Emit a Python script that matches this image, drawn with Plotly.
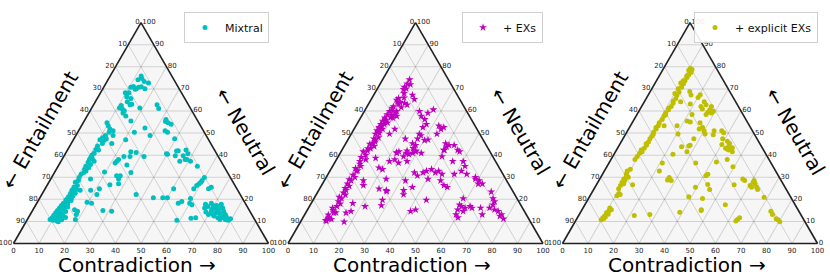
import math
import plotly.graph_objects as go

# (neutral %, contradiction %) per sample; entailment = 100 - neutral - contradiction
mixtral_points = [
    (75.9,12.1),(74.7,13.0),(74.2,11.7),(73.3,14.6),(72.7,16.6),(71.1,11.5),(70.8,10.6),(70.7,13.7),(71.0,14.6),(70.1,13.1),
    (70.1,16.5),(69.8,12.8),(68.3,11.1),(68.3,9.7),(66.4,11.2),(65.7,13.2),(64.2,12.5),(63.1,14.8),(62.8,14.3),(62.5,11.0),
    (61.3,10.9),(61.0,12.1),(60.1,13.4),(59.1,13.4),(57.7,15.2),(55.5,18.3),(54.7,9.3),(53.3,10.5),(51.8,11.9),(51.1,13.5),
    (50.4,12.3),(48.9,11.6),(48.9,14.6),(47.9,11.0),(47.4,12.7),(47.0,10.4),(46.7,12.3),(45.3,12.2),(45.3,15.9),(44.1,10.9),
    (42.6,11.0),(42.3,12.2),(40.9,11.2),(40.1,10.8),(39.1,10.8),(38.3,11.8),(38.0,10.8),(37.2,13.0),(36.8,10.9),(35.8,12.3),
    (35.0,10.9),(34.3,12.3),(33.6,11.1),(32.8,12.0),(32.1,11.5),(31.4,10.8),(29.9,10.8),(28.5,11.2),(27.7,10.4),(26.3,11.9),
    (25.5,11.0),(24.5,12.4),(24.1,10.9),(22.8,12.8),(22.6,11.1),(21.5,12.6),(21.2,11.0),(20.4,12.5),(20.2,11.0),(19.7,10.7),
    (19.5,12.8),(19.0,11.8),(18.5,11.6),(18.2,10.5),(17.8,12.3),(17.2,10.2),(17.0,11.5),(16.5,13.0),(16.1,10.0),(16.0,11.2),
    (15.5,12.0),(15.0,10.6),(14.9,9.8),(14.5,13.2),(14.0,11.4),(13.9,9.6),(13.5,10.8),(13.2,12.5),(12.8,9.4),(12.8,13.0),
    (12.3,11.8),(12.0,10.2),(11.8,14.5),(11.7,9.3),(11.5,11.5),(11.2,12.8),(11.0,10.5),(10.9,8.9),(10.8,13.5),(10.5,10.2),
    (10.3,11.8),(9.9,12.6),
    (62.8,24.9),(61.3,18.9),(61.1,26.4),(56.2,31.7),(55.2,32.0),(54.7,33.3),(54.0,34.8),(51.1,33.9),(50.4,35.2),(48.9,29.1),
    (47.4,39.5),(50.4,22.2),(52.3,25.4),(47.0,20.5),(42.0,43.6),(41.6,25.2),(41.2,27.5),(39.4,31.5),(39.4,26.0),(39.4,23.6),
    (38.0,22.2),(37.2,21.9),(35.5,26.7),(36.5,21.6),(32.1,30.0),(30.7,25.1),(30.7,26.5),(29.2,26.6),(32.4,19.5),(26.6,24.5),
    (27.0,27.7),(29.2,15.6),(24.8,21.3),(24.1,18.2),(24.1,14.1),(22.2,21.6),(18.7,19.5),(18.2,21.5),(14.9,27.6),(14.6,31.2),
    (14.6,17.8),(15.3,16.3),(13.1,18.1),(10.9,18.8),(22.2,37.0),(20.7,44.5),(20.7,48.2),(20.7,50.0),(18.2,55.5),(19.0,56.5),
    (10.5,58.8),(11.4,63.9),(11.7,65.6),(20.4,59.2),(18.2,60.0),(17.5,61.2),(24.8,50.4),(24.8,58.3),(24.8,64.1),(25.5,64.8),
    (26.3,58.7),(27.0,59.3),(27.7,59.6),(29.9,59.9),(28.5,59.7),(35.0,54.6),(42.3,46.5),(40.6,48.1),(39.7,46.7),(38.0,48.3),
    (38.0,49.0),(37.2,46.6),(37.2,50.8),(39.7,43.6),(40.6,39.7),(40.4,40.2),(41.9,43.0),
    (16.1,66.9),(14.3,68.3),(16.8,67.8),(18.2,68.5),(17.2,69.7),(16.1,71.0),(14.9,72.3),(14.3,73.2),(13.4,74.3),(12.4,75.5),
    (11.7,76.6),(10.9,77.6),(10.5,78.9),(12.4,72.5),(11.7,74.3),(10.9,75.5),(17.8,72.6),(16.1,74.0),(15.8,72.9),(13.9,72.4),
    (14.3,70.4),(13.1,69.9),(13.1,71.7),(17.2,71.1),(14.6,75.1),(13.1,76.5),(17.8,66.4),(12.0,77.5),(11.2,79.5),(15.5,70.0),
]

exs_points = [
    (74.2,10.6),(72.3,10.6),(70.8,10.3),(70.1,11.3),(69.8,10.4),(67.2,15.2),(65.3,16.9),(65.7,10.5),(65.0,10.1),(63.9,12.0),
    (63.1,11.8),(63.5,14.0),(62.8,15.3),(61.6,13.6),(61.3,10.2),(59.9,9.9),(58.4,9.7),(56.9,9.5),(55.5,9.4),(54.0,9.4),
    (52.6,9.4),(51.1,9.4),(49.6,9.5),(47.4,10.0),(45.3,10.4),(43.1,10.8),(59.9,12.7),(58.4,12.7),(56.9,12.7),(57.7,13.8),
    (54.7,11.7),(54.0,10.8),(51.8,11.2),(49.6,15.0),(51.8,16.0),
    (41.6,8.7),(37.2,9.6),(32.8,10.4),(28.5,10.5),(24.1,10.7),(20.4,10.8),(16.8,10.8),(13.9,11.0),(11.2,10.5),(10.2,10.0),
    (58.0,11.5),(56.0,10.5),(53.0,10.2),(50.0,10.8),(48.0,11.5),(46.0,11.2),(44.0,11.8),(42.0,10.2),(40.0,10.5),(39.0,9.2),
    (36.0,10.2),(35.0,11.0),(34.0,9.5),(31.0,10.0),(30.0,11.2),(27.0,9.8),(26.0,11.0),(23.0,10.2),(22.0,11.5),(19.0,10.3),
    (18.0,11.5),(15.0,10.2),(14.0,11.8),(12.0,10.0),(11.0,11.5),(10.5,9.5),(13.0,9.3),(16.0,9.5),(21.0,9.6),(25.0,9.9),
    (29.0,9.5),(33.0,10.8),(38.0,11.5),(43.0,9.8),(45.0,9.6),(47.0,10.8),(50.5,10.0),(52.0,9.9),(55.0,10.6),(57.0,11.8),
    (60.0,11.2),(62.0,10.4),(64.0,11.0),(66.0,12.5),(68.0,11.5),(72.0,12.0),
    (59.9,21.6),(57.7,23.4),(59.1,25.3),(60.6,26.7),(56.2,25.5),(54.0,27.3),(52.6,26.6),(49.6,26.7),(47.4,27.1),(48.9,27.7),
    (46.7,30.2),(47.0,31.4),(53.3,32.5),(51.8,34.1),(49.6,33.6),(52.6,34.8),(45.3,39.2),(43.8,40.3),(42.3,40.2),(44.5,40.9),
    (44.5,42.9),(42.3,45.4),(47.4,22.3),(45.3,26.2),(44.5,27.8),(43.1,27.5),(42.0,29.1),(42.0,25.7),(41.2,22.0),
    (38.7,15.0),(34.3,18.5),(33.6,20.3),(37.2,21.2),(38.0,22.9),(36.5,25.1),(40.9,22.2),(41.6,22.7),(39.4,25.6),(40.9,25.9),
    (40.4,27.2),(40.9,28.4),(41.6,29.3),(40.9,31.8),(37.2,28.1),(42.3,39.9),(39.4,40.7),(37.2,46.0),(41.6,46.5),(37.2,50.1),
    (35.0,51.9),(32.8,37.9),(32.1,36.9),(33.6,39.5),(32.1,41.7),(32.8,42.7),(31.4,44.7),(32.1,33.5),(30.7,35.4),(28.5,31.8),
    (29.2,23.9),(28.5,15.3),(26.3,16.4),(24.8,23.3),(24.1,26.5),(24.1,33.3),(25.5,36.0),(29.2,40.3),(28.5,45.6),(26.3,48.0),
    (25.5,49.7),(31.4,49.5),(32.8,51.6),(29.2,58.9),(28.5,60.7),(27.0,62.7),(23.4,68.0),(20.4,70.2),(19.0,71.5),(14.6,75.1),
    (12.4,76.9),(11.2,78.9),(13.1,77.2),(15.3,73.3),(16.1,71.0),(17.5,71.6),(16.1,67.5),(16.1,64.1),(20.4,58.5),(16.8,59.6),
    (17.5,58.5),(15.3,58.9),(13.1,59.3),(11.7,60.8),(16.1,61.4),(19.7,44.4),(15.3,42.4),(14.6,40.8),(19.7,27.2),(16.8,21.8),
    (18.2,16.3),(14.6,17.4),(13.9,15.8),(9.8,17.1),(14.6,61.4),(13.1,69.6),(31.4,54.4),(30.0,58.5),(27.0,61.1),(16.8,63.0),
    (22.2,34.2),(17.2,28.0),(23.6,26.9),
]

explicit_points = [
    (79.3,10.5),(78.1,10.8),(76.4,11.3),(75.2,11.2),(73.7,11.2),(72.3,11.3),(70.8,11.3),(68.6,11.4),(67.2,11.3),(65.7,11.6),
    (63.5,11.6),(62.0,11.6),(60.6,11.3),(59.1,10.9),(57.7,11.0),(56.2,11.0),(54.7,10.6),(53.3,10.9),(51.8,10.8),(50.4,10.5),
    (48.6,10.7),(47.4,10.6),(46.0,10.7),(44.5,10.7),(43.1,10.5),(41.6,10.4),(78.4,10.3),(78.8,11.4),(77.4,11.7),(75.9,10.8),
    (73.7,10.5),(72.7,10.0),(70.1,10.3),(67.9,10.1),(64.5,11.2),(61.2,11.0),(58.3,11.3),(52.5,10.4),(49.3,10.9),(45.2,10.2),
    (42.3,9.7),(40.9,9.8),(39.4,9.6),(38.0,9.4),(32.8,9.0),(31.7,9.3),(29.2,9.4),(27.7,9.5),(26.3,9.6),(24.8,9.6),
    (21.6,10.5),(16.1,10.5),(15.3,11.5),(13.9,10.3),(12.4,10.3),(11.7,10.0),(10.7,9.8),(30.5,9.8),(28.5,10.2),(30.0,10.8),
    (27.0,10.5),(31.0,9.5),(14.5,10.8),(13.2,11.3),(12.0,10.8),(11.2,10.5),(15.5,10.8),(22.6,10.8),(22.2,11.5),(33.6,9.8),
    (68.8,15.5),(67.2,16.8),(67.4,20.3),(66.1,20.1),(64.2,14.2),(63.2,18.5),(64.2,23.5),(62.8,24.9),(62.0,27.4),(60.6,27.4),
    (59.4,27.3),(59.1,28.8),(59.9,29.2),(58.4,27.1),(62.0,23.3),(60.9,24.4),(58.4,21.6),(55.5,21.1),(55.0,22.6),(54.7,26.6),
    (52.6,28.6),(51.8,27.7),(51.1,30.0),(53.3,18.3),(49.2,34.5),(51.1,33.9),(51.1,36.9),(50.1,38.2),(47.4,39.1),(44.8,40.1),
    (46.3,41.5),(45.3,42.9),(43.4,44.9),(44.2,43.1),(42.8,43.2),(43.8,24.8),(44.2,27.4),(44.5,27.8),(47.4,27.8),(49.6,20.5),
    (49.6,31.1),(53.3,13.2),
    (40.4,23.1),(41.6,28.0),(36.5,20.9),(32.8,21.6),(29.9,26.9),(28.5,28.4),(28.8,26.8),(26.6,14.2),(36.5,34.0),(36.9,41.9),
    (38.0,45.6),(42.3,44.0),(41.6,45.8),(43.1,42.4),(31.4,41.3),(30.7,40.9),(24.4,45.5),(26.7,43.6),(25.5,39.4),(21.2,38.9),
    (20.4,44.7),(15.3,46.8),(14.9,46.9),(14.2,38.9),(13.1,27.7),(12.7,21.8),(17.5,55.1),(10.9,63.2),(11.7,63.6),(10.2,62.9),
    (29.2,56.1),(28.5,57.2),(27.7,61.0),(27.0,62.0),(25.5,63.4),(25.5,61.4),(26.3,60.4),(24.4,64.3),(28.5,60.9),(20.9,68.6),
    (14.6,74.4),(13.1,75.8),(11.2,78.2),(9.8,80.3),(10.7,79.2),(26.6,54.0),(34.7,49.5),
]

series_names = ["Mixtral", "+ EXs", "+ explicit EXs"]
series_points = [mixtral_points, exs_points, explicit_points]
series_colors = ["#00bfbf", "#bf00bf", "#bfbf00"]
series_symbols = ["circle", "star", "circle"]
series_sizes = [5, 6, 5]
tick_values = list(range(0, 101, 10))

FIG_W, FIG_H = 830, 277
TRI_W = 255.0
TRI_H = TRI_W * math.sqrt(3) / 2
BOTTOM = 243.5
PANEL_CENTERS = [141.0, 415.5, 690.0]
LEGEND_RIGHT = [269, 543, 818]

fig = go.Figure()
font_family = "DejaVu Sans"

def tern_axis():
    return dict(
        min=0,
        tickmode="array",
        tickvals=tick_values,
        ticktext=[str(100 - v) for v in tick_values],
        tickfont=dict(size=7, color="#222", family=font_family),
        ticks="",
        linecolor="#222", linewidth=1.6,
        showgrid=True, gridcolor="rgba(0,0,0,0.15)", gridwidth=0.7,
        title=dict(text=""),
    )

annotations = []
for i, (name, pts) in enumerate(zip(series_names, series_points)):
    neutral = [p[0] for p in pts]
    contra = [p[1] for p in pts]
    entail = [100 - n - c for n, c in zip(neutral, contra)]
    sub = "ternary" if i == 0 else f"ternary{i+1}"
    leg = "legend" if i == 0 else f"legend{i+1}"
    fig.add_trace(go.Scatterternary(
        a=neutral, b=entail, c=contra, mode="markers", name=name,
        subplot=sub, legend=leg,
        marker=dict(color=series_colors[i], symbol=series_symbols[i], size=series_sizes[i], line=dict(width=0)),
        showlegend=True,
    ))
    cx = PANEL_CENTERS[i]
    dom_x = [(cx - TRI_W / 2) / FIG_W, (cx + TRI_W / 2) / FIG_W]
    dom_y = [(FIG_H - BOTTOM) / FIG_H, (FIG_H - BOTTOM + TRI_H) / FIG_H]
    fig.update_layout(**{sub: dict(
        domain=dict(x=dom_x, y=dom_y), sum=100, bgcolor="#f6f6f6",
        aaxis=tern_axis(), baxis=tern_axis(), caxis=tern_axis(),
    )})
    fig.update_layout(**{leg: dict(
        x=LEGEND_RIGHT[i] / FIG_W, y=1 - 12 / FIG_H, xanchor="right", yanchor="top",
        bgcolor="rgba(255,255,255,0.9)", bordercolor="#d0d0d0", borderwidth=1,
        font=dict(size=11, family=font_family, color="#111"),
        tracegroupgap=0,
    )})
    dx = 275 * i
    annotations += [
        dict(text="Contradiction \u2192", x=(137 + dx) / FIG_W, y=0, yshift=-2,
             xref="paper", yref="paper", showarrow=False, xanchor="center", yanchor="bottom",
             font=dict(size=20, family=font_family, color="#000")),
        dict(text="\u2190 Entailment", x=(40 + dx) / FIG_W, y=1 - 130 / FIG_H,
             xref="paper", yref="paper", showarrow=False, xanchor="center", yanchor="middle",
             textangle=-60, font=dict(size=20, family=font_family, color="#000")),
        dict(text="\u2190 Neutral", x=(245 + dx) / FIG_W, y=1 - 131 / FIG_H,
             xref="paper", yref="paper", showarrow=False, xanchor="center", yanchor="middle",
             textangle=60, font=dict(size=20, family=font_family, color="#000")),
    ]

fig.update_layout(
    width=FIG_W, height=FIG_H,
    margin=dict(l=0, r=0, t=0, b=0),
    paper_bgcolor="white",
    font=dict(family=font_family),
    annotations=annotations,
)

fig.write_html("out.html", config={"displayModeBar": False},
               post_script="document.body.style.margin='0px';")
